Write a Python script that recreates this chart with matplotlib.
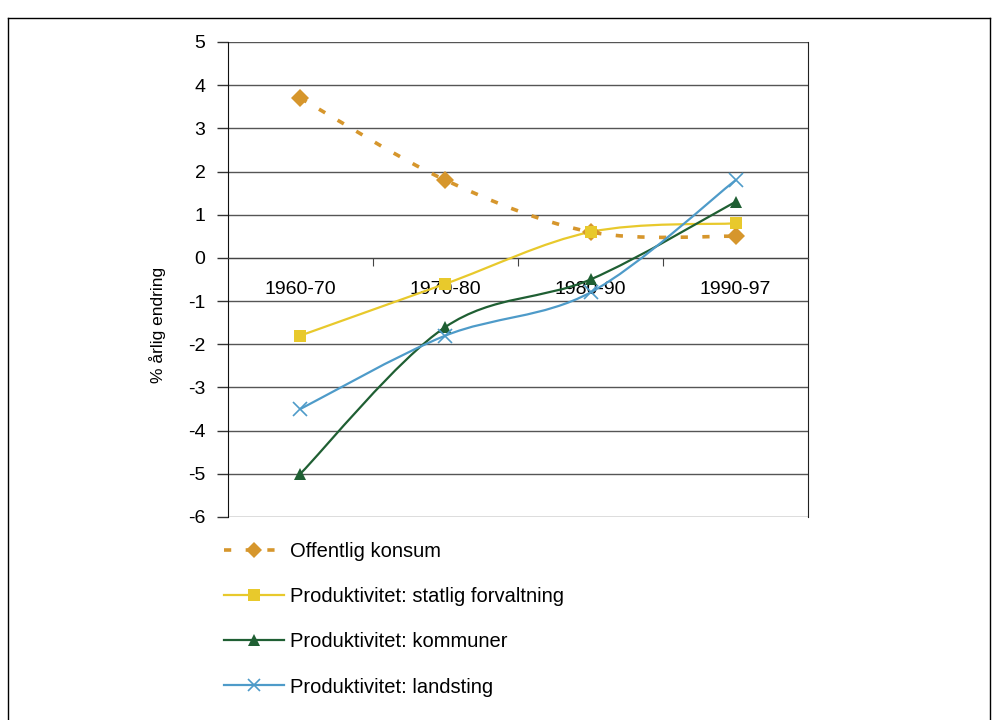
import numpy as np
import matplotlib
matplotlib.use('Agg')
import matplotlib.pyplot as plt
from matplotlib.path import Path
from matplotlib.patches import PathPatch
from matplotlib.lines import Line2D

plt.rcParams['font.family'] = ['Liberation Sans', 'DejaVu Sans']
plt.rcParams['axes.unicode_minus'] = False

# data
periods = ['1960-70', '1970-80', '1980-90', '1990-97']
konsum = [3.7, 1.8, 0.6, 0.5]
statlig = [-1.8, -0.6, 0.6, 0.8]
kommuner = [-5.0, -1.6, -0.5, 1.3]
landsting = [-3.5, -1.8, -0.8, 1.8]

names = ['Offentlig konsum', 'Produktivitet: statlig forvaltning',
         'Produktivitet: kommuner', 'Produktivitet: landsting']
colors = ['#D6962C', '#E8C92C', '#1F5F33', '#4E9BC9']
markers = ['D', 's', '^', 'x']
msizes = [9, 9, 9, 10]


def smooth_path(xs, ys):
    # excel-style smoothed line: cubic bezier through the points
    p = np.column_stack([xs, ys]).astype(float)
    pp = np.vstack([p[0], p, p[-1]])
    verts = [p[0]]
    codes = [Path.MOVETO]
    for i in range(len(p) - 1):
        c1 = pp[i + 1] + (pp[i + 2] - pp[i]) / 6.0
        c2 = pp[i + 2] - (pp[i + 3] - pp[i + 1]) / 6.0
        verts += [c1, c2, p[i + 1]]
        codes += [Path.CURVE4] * 3
    return Path(verts, codes)


fig = plt.figure(figsize=(9.99, 7.2), dpi=100)
ax = fig.add_axes([0.228, 0.282, 0.581, 0.6597])

x = np.arange(len(periods))
series = [konsum, statlig, kommuner, landsting]
handles = []
for i, s in enumerate(series):
    if i == 0:
        ls, lw = (0, (2, 4)), 2.6
    else:
        ls, lw = '-', 1.6
    patch = PathPatch(smooth_path(x, s), fill=False, edgecolor=colors[i],
                      lw=lw, linestyle=ls, capstyle='butt', zorder=3)
    ax.add_patch(patch)
    mew = 1.2 if markers[i] == 'x' else 0
    ax.plot(x, s, ls='none', marker=markers[i], ms=msizes[i], color=colors[i],
            mew=mew, zorder=4)
    handles.append(Line2D([], [], color=colors[i], lw=lw, linestyle=ls,
                          marker=markers[i], ms=msizes[i] - 1, mew=mew,
                          dash_capstyle='butt'))

ax.set_xlim(-0.5, 3.5)
ax.set_ylim(-6, 5)
ax.set_yticks(range(-6, 6))
ax.yaxis.grid(True, color='#555555', lw=1)
ax.set_axisbelow(True)
ax.tick_params(axis='y', direction='out', length=8, width=1, pad=8,
               labelsize=14, color='#333333')

ax.spines['bottom'].set_position(('data', 0))
ax.spines['bottom'].set_color('#444444')
ax.spines['top'].set_visible(False)
ax.spines['right'].set_color('#222222')
ax.spines['left'].set_color('#111111')

ax.set_xticks([0.5, 1.5, 2.5])
ax.set_xticklabels([])
ax.tick_params(axis='x', which='major', direction='out', length=6,
               color='#444444')
ax.set_xticks(x, minor=True)
ax.set_xticklabels(periods, minor=True)
ax.tick_params(axis='x', which='minor', length=0, pad=17, labelsize=14)

fig.text(158 / 999, 1 - 325 / 720, '% årlig endring', rotation=90,
         ha='center', va='center', fontsize=12.5)

fig.legend(handles, names, loc='upper left',
           bbox_to_anchor=(0.224, 1 - 542 / 720), frameon=False,
           fontsize=14.5, handlelength=3.0, handletextpad=0.3,
           labelspacing=1.3, borderaxespad=0, borderpad=0)

# outer frame
fig.add_artist(Line2D([8 / 999, 8 / 999], [0, 1 - 18 / 720], color='black',
                      lw=1, transform=fig.transFigure))
fig.add_artist(Line2D([8 / 999, 990 / 999], [1 - 18 / 720, 1 - 18 / 720],
                      color='black', lw=1, transform=fig.transFigure))
fig.add_artist(Line2D([990 / 999, 990 / 999], [0, 1 - 18 / 720], color='black',
                      lw=1, transform=fig.transFigure))

plt.savefig('out.png')
